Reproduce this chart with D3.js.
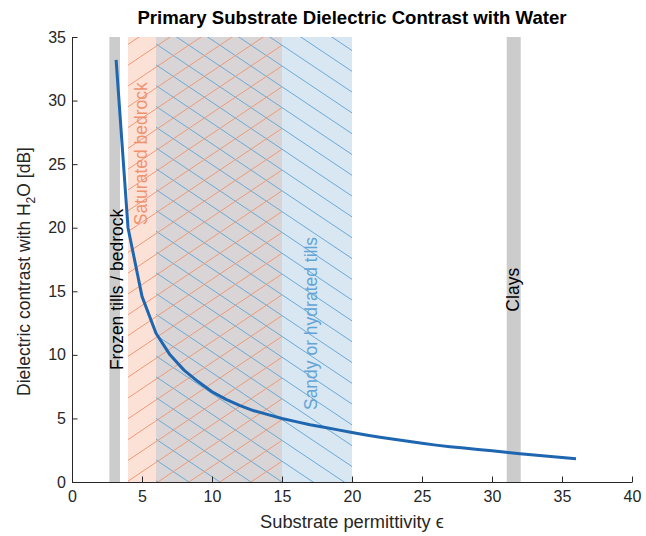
<!DOCTYPE html>
<html>
<head>
<meta charset="utf-8">
<script src="https://cdn.jsdelivr.net/npm/d3@7"></script>
<style>
  body { margin: 0; background: #fff; }
  text { font-family: "Liberation Sans", Arial, sans-serif; }
</style>
</head>
<body>
<div id="chart"></div>
<script>
// curve readings
const permittivity = [3.15, 4, 5, 6, 7, 8, 9, 10, 11, 12, 13, 14, 15, 16, 17, 18, 19, 20,
  21, 22, 23, 24, 25, 26, 27, 28, 29, 30, 31, 32, 33, 34, 35, 36]
const contrastDb = [33.2, 20.0, 14.6, 11.7, 10.0, 8.8, 7.9, 7.1, 6.5, 6.0, 5.6, 5.3, 5.0, 4.75, 4.5, 4.3, 4.1, 3.9,
  3.7, 3.52, 3.36, 3.2, 3.04, 2.9, 2.78, 2.67, 2.56, 2.45, 2.34, 2.22, 2.12, 2.02, 1.92, 1.83]

// permittivity ranges of the materials
const bars = [
  {name: 'Frozen tills / bedrock', lo: 2.67, hi: 3.43, labelX: 3.62, labelY: 8.8},
  {name: 'Clays', lo: 31.05, hi: 32.05, labelX: 31.95, labelY: 13.4}
]
const bedrock = {name: 'Saturated bedrock', lo: 4, hi: 15, labelX: 5.35, labelY: 20.2}
const tills = {name: 'Sandy or hydrated tills', lo: 6, hi: 20, labelX: 17.5, labelY: 5.66}

const xTicks = [0, 5, 10, 15, 20, 25, 30, 35, 40]
const yTicks = [0, 5, 10, 15, 20, 25, 30, 35]

const W = 646, H = 536
const m = {left: 72, right: 14, top: 37, bottom: 54}
const axisCol = '#262626'

const svg = d3.select('#chart').append('svg').attr('width', W).attr('height', H)

const x = d3.scaleLinear().domain([0, 40]).range([m.left, W - m.right])
const y = d3.scaleLinear().domain([0, 35]).range([H - m.bottom, m.top])

const g = svg.append('g')

// gray bars
g.selectAll('rect.bar').data(bars).enter().append('rect')
  .attr('class', 'bar')
  .attr('x', d => x(d.lo)).attr('width', d => x(d.hi) - x(d.lo))
  .attr('y', y(35)).attr('height', y(0) - y(35))
  .attr('fill', '#cccccc')

// filled ranges (salmon / overlap / blue)
const fills = [
  {lo: bedrock.lo, hi: tills.lo, col: '#fce1d6'},
  {lo: tills.lo, hi: bedrock.hi, col: '#d9d5d6'},
  {lo: bedrock.hi, hi: tills.hi, col: '#d9e7f3'}
]
g.selectAll('rect.fill').data(fills).enter().append('rect')
  .attr('x', d => x(d.lo)).attr('width', d => x(d.hi) - x(d.lo))
  .attr('y', y(35)).attr('height', y(0) - y(35))
  .attr('fill', d => d.col)

// hatching
const step = 20.8, slope = 0.67
function hatch(region, dir, col, id) {
  svg.append('clipPath').attr('id', id).append('rect')
    .attr('x', x(region.lo)).attr('width', x(region.hi) - x(region.lo))
    .attr('y', y(35)).attr('height', y(0) - y(35))
  const x0 = x(region.lo), x1 = x(region.hi), ax = x(15), ay = y(0)
  const lines = []
  for (let k = -40; k < 60; k++) {
    const b = ay - k * step
    lines.push([x0, b - dir * slope * (x0 - ax), x1, b - dir * slope * (x1 - ax)])
  }
  g.append('g').attr('clip-path', 'url(#' + id + ')')
    .selectAll('line').data(lines).enter().append('line')
    .attr('x1', d => d[0]).attr('y1', d => d[1]).attr('x2', d => d[2]).attr('y2', d => d[3])
    .attr('stroke', col).attr('stroke-width', 1)
}
hatch(tills, -1, '#6aaad6', 'clipB')
hatch(bedrock, 1, '#ee9a78', 'clipO')

// curve
const line = d3.line().x((d, i) => x(permittivity[i])).y(d => y(d))
g.append('path').datum(contrastDb)
  .attr('d', line).attr('fill', 'none')
  .attr('stroke', '#1f66b0').attr('stroke-width', 3).attr('stroke-linejoin', 'round')

// region labels
const labels = [
  {...bars[0], col: '#000'},
  {...bars[1], col: '#000'},
  {...bedrock, col: '#ef9270'},
  {...tills, col: '#62a4d6'}
]
g.selectAll('text.lab').data(labels).enter().append('text')
  .attr('transform', d => `translate(${x(d.labelX)},${y(d.labelY)}) rotate(-90)`)
  .attr('font-size', 17.5).attr('fill', d => d.col)
  .text(d => d.name)

// axes
const xa = svg.append('g').attr('transform', `translate(0,${y(0)})`)
  .call(d3.axisBottom(x).tickValues(xTicks).tickSizeInner(-5.5).tickSizeOuter(0).tickPadding(9))
const ya = svg.append('g').attr('transform', `translate(${x(0)},0)`)
  .call(d3.axisLeft(y).tickValues(yTicks).tickSizeInner(-5.5).tickSizeOuter(0).tickPadding(6))
;[xa, ya].forEach(a => {
  a.select('.domain').attr('stroke', axisCol)
  a.selectAll('.tick line').attr('stroke', axisCol)
  a.selectAll('.tick text').attr('fill', axisCol).attr('font-size', 16)
    .attr('font-family', '"Liberation Sans", Arial, sans-serif')
})

// titles
svg.append('text').attr('x', (x(0) + x(40)) / 2).attr('y', 24)
  .attr('text-anchor', 'middle').attr('font-size', 18.6).attr('font-weight', 'bold').attr('fill', '#000')
  .text('Primary Substrate Dielectric Contrast with Water')

svg.append('text').attr('x', (x(0) + x(40)) / 2).attr('y', 528)
  .attr('text-anchor', 'middle').attr('font-size', 18.3).attr('fill', axisCol)
  .text('Substrate permittivity \u03f5')

const yl = svg.append('text')
  .attr('transform', `translate(30,${(y(0) + y(35)) / 2 + 12}) rotate(-90)`)
  .attr('text-anchor', 'middle').attr('font-size', 17.5).attr('fill', axisCol)
yl.append('tspan').text('Dielectric contrast with H')
yl.append('tspan').attr('font-size', 12).attr('dy', 5).text('2')
yl.append('tspan').attr('dy', -5).text('O [dB]')
</script>
</body>
</html>
